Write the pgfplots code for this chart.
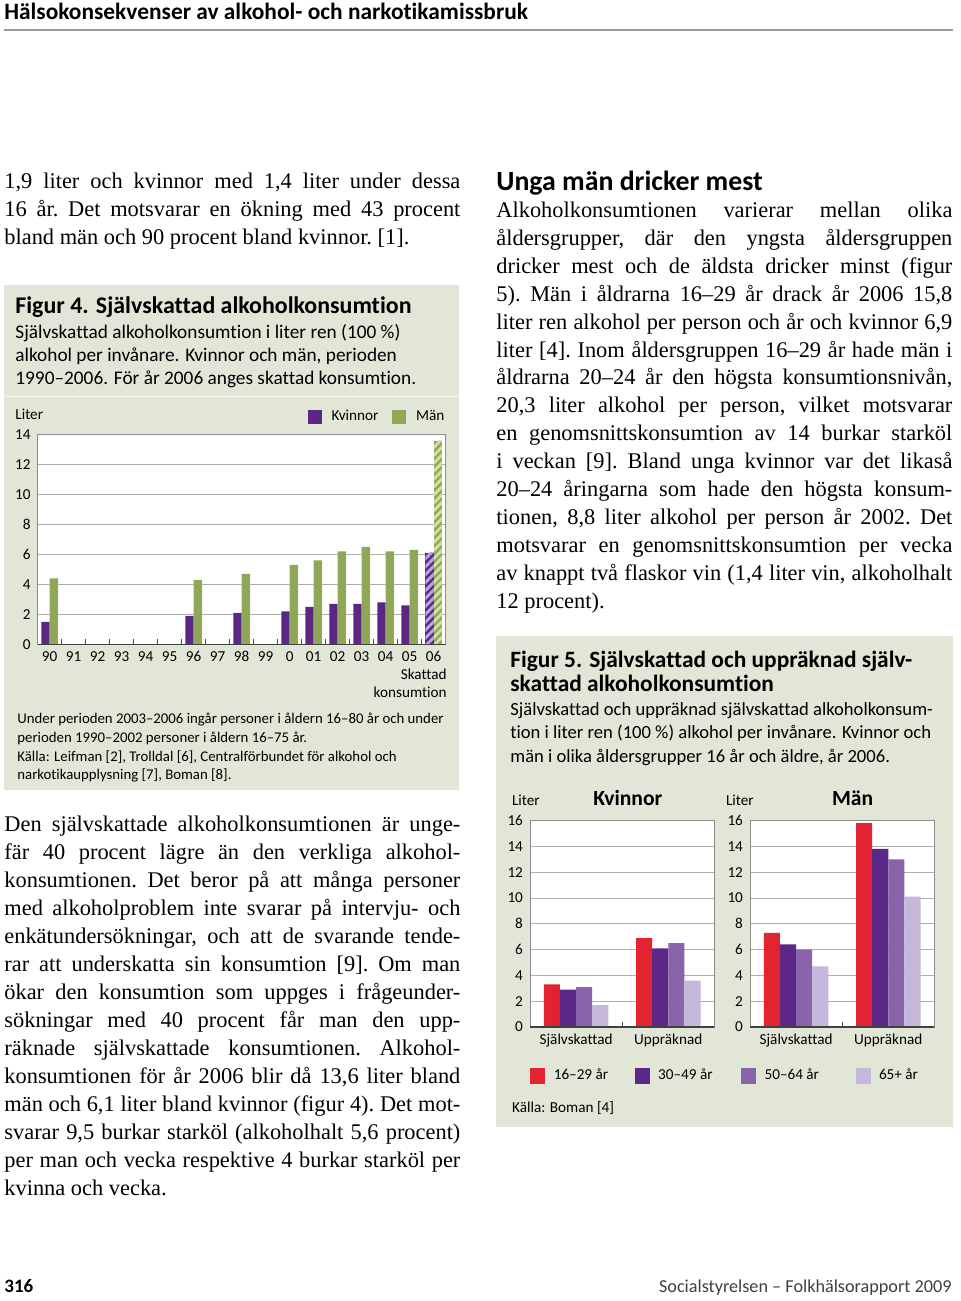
\documentclass[border=0pt]{standalone}
\usepackage{pgfplots}
\pgfplotsset{compat=1.18}
\usepackage{fontspec}
\setmainfont{Liberation Serif}
\setsansfont{Carlito}[Ligatures=NoCommon]
\usetikzlibrary{patterns.meta}

\definecolor{boxbg}{RGB}{226,230,214}
\definecolor{kv}{RGB}{92,38,134}
\definecolor{kvl}{RGB}{185,165,215}
\definecolor{man}{RGB}{143,168,88}
\definecolor{manl}{RGB}{208,224,165}
\definecolor{gridc}{RGB}{175,175,175}
\definecolor{framec}{RGB}{140,140,140}
\definecolor{ared}{RGB}{227,35,48}
\definecolor{apur}{RGB}{92,40,135}
\definecolor{amid}{RGB}{138,100,170}
\definecolor{alav}{RGB}{198,184,218}

\newcommand{\body}{\rmfamily\frenchspacing\fontsize{11.2}{14}\selectfont}
\newcommand{\cf}{\sffamily\fontsize{7.6}{9}\selectfont}
\newcommand{\capa}{\sffamily\fontsize{9.65}{11}\selectfont}
\newcommand{\capb}{\sffamily\fontsize{9.3}{11}\selectfont}
\newcommand{\titf}{\sffamily\bfseries\fontsize{11.7}{12}\selectfont}
% one justified / one ragged line of body text
\newcommand{\J}[3]{\node[anchor=base west,inner sep=0pt] at (#1,#2) {\body\makebox[228pt][s]{#3}};}
\newcommand{\R}[3]{\node[anchor=base west,inner sep=0pt] at (#1,#2) {\body#3};}
\newcommand{\T}[4]{\node[anchor=base west,inner sep=0pt] at (#1,#2) {#3#4};}

\pgfplotsset{
  chart/.style={
    scale only axis, ybar, anchor=south west,
    axis background/.style={fill=white},
    ymajorgrids, grid style={draw=gridc, line width=0.5pt},
    axis line style={draw=framec, line width=0.5pt},
    major tick length=0pt, minor tick length=2.5pt, tick align=inside, xtick pos=left,
    minor tick style={draw=black!70, line width=0.5pt},
    ticklabel style={font=\cf},
    /pgf/number format/assume math mode=true,
    legend style={draw=none, fill=none, inner sep=0pt, font=\cf},
  },
}

\begin{document}
\begin{tikzpicture}
\begin{scope}[x=0.5pt,y=-0.5pt]
\path[use as bounding box] (0,0) rectangle (960,1301);
% boxes
\fill[boxbg] (4,285) rectangle (459,790);
\draw[white, opacity=0.7, line width=0.8pt] (4,396.5) -- (459,396.5);
\fill[boxbg] (496,636) rectangle (953,1127);
\coordinate (f4) at (37.7,644.3);
\coordinate (f5a) at (530,1027);
\coordinate (f5b) at (750,1027);

% header and footer
\T{4}{19}{\sffamily\bfseries\fontsize{11.7}{12}\selectfont}{Hälsokonsekvenser av alkohol- och narkotikamissbruk}
\draw[gray!80, line width=0.9pt] (4,30) -- (953,30);
\T{4}{1292}{\sffamily\bfseries\fontsize{9.5}{10}\selectfont}{316}
\node[anchor=base east,inner sep=0pt] at (952,1292) {\sffamily\fontsize{9.1}{10}\selectfont\color{black!75}Socialstyrelsen – Folkhälsorapport 2009};

% left column, top
\J{4}{188}{1,9 liter och kvinnor med 1,4 liter under dessa}
\J{4}{216}{16 år. Det motsvarar en ökning med 43 procent}
\R{4}{244}{bland män och 90 procent bland kvinnor. [1].}

% figure 4 caption
\T{15}{313}{\sffamily\bfseries\fontsize{11.95}{12}\selectfont}{Figur 4. Självskattad alkoholkonsumtion}
\T{15}{338}{\capa}{Självskattad alkoholkonsumtion i liter ren (100 \%)}
\T{15}{361}{\capa}{alkohol per invånare. Kvinnor och män, perioden}
\T{15}{384}{\capa}{1990–2006. För år 2006 anges skattad konsumtion.}
\T{15}{419}{\cf}{Liter}
\node[anchor=base east,inner sep=0pt] at (447,679) {\cf Skattad};
\node[anchor=base east,inner sep=0pt] at (447,697) {\cf konsumtion};
\T{17}{723}{\sffamily\fontsize{7.4}{9}\selectfont}{Under perioden 2003–2006 ingår personer i åldern 16–80 år och under}
\T{17}{742}{\sffamily\fontsize{7.4}{9}\selectfont}{perioden 1990–2002 personer i åldern 16–75 år.}
\T{17}{761}{\sffamily\fontsize{7.4}{9}\selectfont}{Källa: Leifman [2], Trolldal [6], Centralförbundet för alkohol och}
\T{17}{779}{\sffamily\fontsize{7.4}{9}\selectfont}{narkotikaupplysning [7], Boman [8].}

% left column, bottom
\J{4}{831}{Den självskattade alkoholkonsumtionen är unge-}
\J{4}{859}{fär 40 procent lägre än den verkliga alkohol-}
\J{4}{887}{konsumtionen. Det beror på att många personer}
\J{4}{915}{med alkoholproblem inte svarar på intervju- och}
\J{4}{943}{enkätundersökningar, och att de svarande tende-}
\J{4}{971}{rar att underskatta sin konsumtion [9]. Om man}
\J{4}{999}{ökar den konsumtion som uppges i frågeunder-}
\J{4}{1027}{sökningar med 40 procent får man den upp-}
\J{4}{1055}{räknade självskattade konsumtionen. Alkohol-}
\J{4}{1083}{konsumtionen för år 2006 blir då 13,6 liter bland}
\J{4}{1111}{män och 6,1 liter bland kvinnor (figur 4). Det mot-}
\J{4}{1139}{svarar 9,5 burkar starköl (alkoholhalt 5,6 procent)}
\J{4}{1167}{per man och vecka respektive 4 burkar starköl per}
\R{4}{1195}{kvinna och vecka.}

% right column
\T{496}{190}{\sffamily\bfseries\fontsize{13.9}{15}\selectfont}{Unga män dricker mest}
\J{496}{217}{Alkoholkonsumtionen varierar mellan olika}
\J{496}{245}{åldersgrupper, där den yngsta åldersgruppen}
\J{496}{273}{dricker mest och de äldsta dricker minst (figur}
\J{496}{301}{5). Män i åldrarna 16–29 år drack år 2006 15,8}
\J{496}{329}{liter ren alkohol per person och år och kvinnor 6,9}
\J{496}{357}{liter [4]. Inom åldersgruppen 16–29 år hade män i}
\J{496}{384}{åldrarna 20–24 år den högsta konsumtionsnivån,}
\J{496}{412}{20,3 liter alkohol per person, vilket motsvarar}
\J{496}{440}{en genomsnittskonsumtion av 14 burkar starköl}
\J{496}{468}{i veckan [9]. Bland unga kvinnor var det likaså}
\J{496}{496}{20–24 åringarna som hade den högsta konsum-}
\J{496}{524}{tionen, 8,8 liter alkohol per person år 2002. Det}
\J{496}{552}{motsvarar en genomsnittskonsumtion per vecka}
\J{496}{580}{av knappt två flaskor vin (1,4 liter vin, alkoholhalt}
\R{496}{608}{12 procent).}

% figure 5 caption
\T{510}{667}{\titf}{Figur 5. Självskattad och uppräknad själv-}
\T{510}{691}{\titf}{skattad alkoholkonsumtion}
\T{510}{715}{\capb}{Självskattad och uppräknad självskattad alkoholkonsum-}
\T{510}{738}{\capb}{tion i liter ren (100 \%) alkohol per invånare. Kvinnor och}
\T{510}{762}{\capb}{män i olika åldersgrupper 16 år och äldre, år 2006.}
\T{511.7}{805}{\cf}{Liter}
\T{593}{805}{\sffamily\bfseries\fontsize{10.8}{12}\selectfont}{Kvinnor}
\T{725.7}{805}{\cf}{Liter}
\T{831.7}{805}{\sffamily\bfseries\fontsize{10.8}{12}\selectfont}{Män}
\T{511.7}{1112}{\cf}{Källa: Boman [4]}
\end{scope}

% ---------- Figur 4 ----------
\begin{axis}[chart, at={(f4)}, width=204pt, height=104.8pt,
  bar width=0.35, xmin=-0.5, xmax=16.5, ymin=0, ymax=14,
  xtick={0,...,16},
  xticklabels={90,91,92,93,94,95,96,97,98,99,0,01,02,03,04,05,06},
  minor xtick={0.5,1.5,...,15.5},
  ytick={0,2,...,14},
  legend columns=2,
  legend style={at={(1.0074,1.086)}, anchor=east,
    /tikz/every even column/.append style={column sep=5pt}},
  legend image code/.code={\fill[#1] (0pt,-3.5pt) rectangle (7pt,3.5pt); \path (9.8pt,0pt);},
]
\addlegendimage{fill=kv, draw=none}
\addlegendentry{Kvinnor}
\addlegendimage{fill=man, draw=none}
\addlegendentry{Män}
\addplot[forget plot, fill=kv, draw=none, bar shift=-0.175] coordinates {
  (0,1.5) (6,1.9) (8,2.1) (10,2.2) (11,2.5) (12,2.7) (13,2.7) (14,2.8) (15,2.6)};
\addplot[forget plot, fill=man, draw=none, bar shift=0.175] coordinates {
  (0,4.4) (6,4.3) (8,4.7) (10,5.3) (11,5.6) (12,6.2) (13,6.5) (14,6.2) (15,6.3)};
% 2006: skattad konsumtion
\addplot[forget plot, fill=kv, draw=none, bar shift=-0.175,
  postaction={pattern={Lines[angle=45,distance=2.8pt,line width=1.5pt]}, pattern color=kvl}]
  coordinates {(16,6.1)};
\addplot[forget plot, fill=man, draw=none, bar shift=0.175,
  postaction={pattern={Lines[angle=45,distance=2.8pt,line width=1.5pt]}, pattern color=manl}]
  coordinates {(16,13.6)};
\draw[black!75, line width=0.7pt] (rel axis cs:0,0) -- (rel axis cs:1,0);
\end{axis}

% ---------- Figur 5, Kvinnor ----------
\begin{axis}[chart, at={(f5a)}, width=92.2pt, height=103.2pt,
  bar width=0.175, xmin=-0.5, xmax=1.5, ymin=0, ymax=16,
  xtick={0,1}, xticklabels={Självskattad,Uppräknad}, minor xtick={0.5},
  ytick={0,2,...,16},
  legend columns=4,
  legend style={at={(0,-0.236)}, anchor=west,
    /tikz/every even column/.append style={column sep=0pt}},
  legend image code/.code={\fill[#1] (0pt,-4.1pt) rectangle (7.5pt,4.1pt); \path (9.7pt,0pt);},
]
\addlegendimage{fill=ared, draw=none}\addlegendentry{\makebox[38.5pt][l]{16–29 år}}
\addlegendimage{fill=apur, draw=none}\addlegendentry{\makebox[39.5pt][l]{30–49 år}}
\addlegendimage{fill=amid, draw=none}\addlegendentry{\makebox[43.5pt][l]{50–64 år}}
\addlegendimage{fill=alav, draw=none}\addlegendentry{65+ år}
\addplot[forget plot, fill=ared, draw=none, bar shift=-0.2625] coordinates {(0,3.3) (1,6.9)};
\addplot[forget plot, fill=apur, draw=none, bar shift=-0.0875] coordinates {(0,2.9) (1,6.1)};
\addplot[forget plot, fill=amid, draw=none, bar shift=0.0875] coordinates {(0,3.1) (1,6.5)};
\addplot[forget plot, fill=alav, draw=none, bar shift=0.2625] coordinates {(0,1.7) (1,3.6)};
\draw[black!75, line width=0.7pt] (rel axis cs:0,0) -- (rel axis cs:1,0);
\end{axis}

% ---------- Figur 5, Män ----------
\begin{axis}[chart, at={(f5b)}, width=92.2pt, height=103.2pt,
  bar width=0.175, xmin=-0.5, xmax=1.5, ymin=0, ymax=16,
  xtick={0,1}, xticklabels={Självskattad,Uppräknad}, minor xtick={0.5},
  ytick={0,2,...,16},
]
\addplot[fill=ared, draw=none, bar shift=-0.2625] coordinates {(0,7.3) (1,15.8)};
\addplot[fill=apur, draw=none, bar shift=-0.0875] coordinates {(0,6.4) (1,13.8)};
\addplot[fill=amid, draw=none, bar shift=0.0875] coordinates {(0,6.0) (1,13.0)};
\addplot[fill=alav, draw=none, bar shift=0.2625] coordinates {(0,4.7) (1,10.1)};
\draw[black!75, line width=0.7pt] (rel axis cs:0,0) -- (rel axis cs:1,0);
\end{axis}
\end{tikzpicture}
\end{document}
